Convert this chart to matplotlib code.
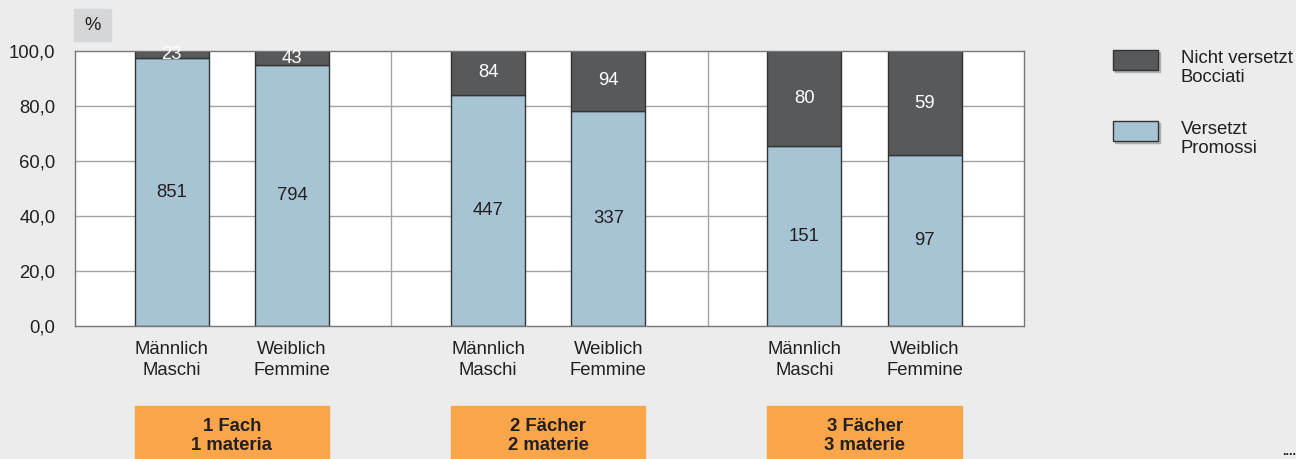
import matplotlib.pyplot as plt
import numpy as np
from matplotlib.patches import Rectangle

plt.rcParams["font.family"] = ["Liberation Sans", "DejaVu Sans"]

# counts per bar (group, gender)
promoted = np.array([851, 794, 447, 337, 151, 97])
failed = np.array([23, 43, 84, 94, 80, 59])
gender_labels = ["Männlich\nMaschi", "Weiblich\nFemmine"] * 3
group_labels = ["1 Fach\n1 materia", "2 Fächer\n2 materie", "3 Fächer\n3 materie"]
legend_labels = ["Nicht versetzt\nBocciati", "Versetzt\nPromossi"]
yticks = [0, 20, 40, 60, 80, 100]

BG = "#ebeceb"
DARK = "#58595b"
LIGHT = "#a7c4d5"
ORANGE = "#f9a54a"
TXT = "#231f20"
FS = 13.3

total = promoted + failed
pct_prom = promoted / total * 100
pct_fail = failed / total * 100

x = np.array([g + off for g in range(3) for off in (0.306, 0.686)])
width = 0.234

fig = plt.figure(figsize=(12.96, 4.59), dpi=100, facecolor=BG)
ax = fig.add_axes([75 / 1296, 133 / 459, 949 / 1296, 275 / 459])
ax.set_facecolor("white")
ax.set_xlim(0, 3)
ax.set_ylim(0, 100)

for yv in yticks[1:-1]:
    ax.axhline(yv, color="#a3a3a3", lw=1, zorder=1)
for xv in (1, 2):
    ax.axvline(xv, color="#a3a3a3", lw=1, zorder=1)

ax.bar(x, pct_prom, width, color=LIGHT, edgecolor="#333333", lw=1, zorder=2)
ax.bar(x, pct_fail, width, bottom=pct_prom, color=DARK, edgecolor="#333333",
       lw=1, zorder=2)

for xi, p, f, np_, nf in zip(x, pct_prom, pct_fail, promoted, failed):
    ax.text(xi, p / 2, str(np_), ha="center", va="center", fontsize=FS,
            color=TXT, zorder=3)
    ax.text(xi, p + f / 2, str(nf), ha="center", va="center", fontsize=FS,
            color="white", zorder=3)

for s in ax.spines.values():
    s.set_color("#777777")
    s.set_linewidth(1)

ax.set_yticks(yticks)
ax.set_yticklabels([f"{v:.1f}".replace(".", ",") for v in yticks],
                   fontsize=FS, color=TXT)
ax.set_xticks(x)
ax.set_xticklabels(gender_labels, fontsize=FS, color=TXT, linespacing=1.32)
ax.tick_params(axis="y", length=0, pad=14)
ax.tick_params(axis="x", length=0, pad=11)

# "%" box
fig.patches.append(Rectangle((74 / 1296, 1 - 41 / 459), 37 / 1296, 32 / 459,
                             transform=fig.transFigure, color="#d5d6d7"))
fig.text(92.5 / 1296, 1 - 26 / 459, "%", ha="center", va="center",
         fontsize=FS, color=TXT)

# group boxes
for i, lab in enumerate(group_labels):
    x0 = x[2 * i] - width / 2
    x1 = x[2 * i + 1] + width / 2
    fx0 = ax.transData.transform((x0, 0))[0] / 1296
    fx1 = ax.transData.transform((x1, 0))[0] / 1296
    fig.patches.append(Rectangle((fx0, 0), fx1 - fx0, 53 / 459,
                                 transform=fig.transFigure, color=ORANGE))
    fig.text((fx0 + fx1) / 2, 1 - 436 / 459, lab, ha="center", va="center",
             fontsize=FS, fontweight="bold", color=TXT, linespacing=1.22)

# legend
for j, (lab, col) in enumerate(zip(legend_labels, [DARK, LIGHT])):
    ytop = 50 + j * 71
    fig.patches.append(Rectangle((1115 / 1296, 1 - (ytop + 22) / 459),
                                 45 / 1296, 20 / 459, transform=fig.transFigure,
                                 color="#b0b0b0"))
    fig.patches.append(Rectangle((1113 / 1296, 1 - (ytop + 20) / 459),
                                 45 / 1296, 20 / 459, transform=fig.transFigure,
                                 facecolor=col, edgecolor="#333333", lw=1))
    fig.text(1181 / 1296, 1 - (ytop + 18) / 459, lab, ha="left", va="center",
             fontsize=FS, color=TXT, linespacing=1.2)

fig.text(1296 / 1296, 1 - 452 / 459, "....", ha="right", va="center",
         fontsize=9, color=TXT, fontweight="bold")

fig.savefig("out.png", dpi=100, facecolor=BG)
